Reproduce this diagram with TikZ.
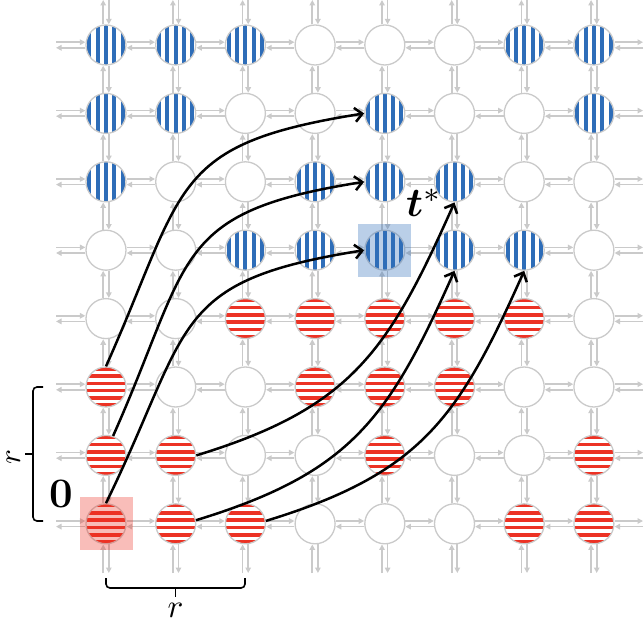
\documentclass[tikz,border=0pt]{standalone}
\usepackage{bm}
\usetikzlibrary{arrows.meta}
\definecolor{gridgray}{RGB}{202,202,202}
\definecolor{stripeblue}{RGB}{46,109,184}
\definecolor{stripered}{RGB}{236,50,36}
\tikzset{
  cell/.style={circle, draw=gridgray, line width=1.3pt, minimum size=40pt, inner sep=0pt, fill=white},
  cellW/.style={cell},
  cellB/.style={cell, path picture={\foreach \k in {-2,...,2}{\fill[stripeblue] ([xshift=\k*8.3pt-2pt, yshift=-22pt]path picture bounding box.center) rectangle ++(4pt,44pt);}}},
  cellR/.style={cell, path picture={\foreach \k in {-3,...,2}{\fill[stripered] ([yshift=\k*7.3pt+1.85pt, xshift=-22pt]path picture bounding box.center) rectangle ++(44pt,3.6pt);}}},
  garr/.style={draw=gridgray, line width=1.7pt, -{Triangle[length=5.5pt,width=5.5pt]}},
  bigarr/.style={draw=black, line width=2.5pt, -{Straight Barb[length=7.5pt,width=14pt]}},
  brk/.style={draw=black, line width=1.6pt, rounded corners=4pt},
  lbl/.style={inner sep=0pt, text=black},
}
\begin{document}
\begin{tikzpicture}[x=1pt,y=1pt]
\useasboundingbox (0,0) rectangle (644,622);
% grid nodes
\foreach \row [count=\i from 0] in {{B,B,B,W,W,W,B,B},{B,B,W,W,B,W,W,B},{B,W,W,B,B,B,W,W},{W,W,B,B,B,B,B,W},{W,W,R,R,R,R,R,W},{R,W,W,R,R,R,W,W},{R,R,W,W,R,W,W,R},{R,R,R,W,W,W,R,R}}{
  \foreach \t [count=\j from 0] in \row {
    \node[cell\t] (n-\i-\j) at ({106+69.7*\j},{577-68.4*\i}) {};
  }
}
% virtual end points at the border
\foreach \i in {0,...,7}{
  \coordinate (L\i) at (56,{577-68.4*\i});
  \coordinate (R\i) at (643,{577-68.4*\i});
  \coordinate (T\i) at ({106+69.7*\i},622);
  \coordinate (B\i) at ({106+69.7*\i},49);
}
% horizontal connectors
\foreach \i in {0,...,7}{
  \foreach \j [evaluate=\j as \k using int(\j+1)] in {0,...,6}{
    \draw[garr] ([yshift=2.8pt]n-\i-\j.east) -- ([yshift=2.8pt]n-\i-\k.west);
    \draw[garr] ([yshift=-2.8pt]n-\i-\k.west) -- ([yshift=-2.8pt]n-\i-\j.east);
  }
  \draw[garr] ([yshift=2.8pt]L\i) -- ([yshift=2.8pt]n-\i-0.west);
  \draw[garr] ([yshift=-2.8pt]n-\i-0.west) -- ([yshift=-2.8pt]L\i);
  \draw[garr] ([yshift=2.8pt]n-\i-7.east) -- ([yshift=2.8pt]R\i);
  \draw[garr] ([yshift=-2.8pt]R\i) -- ([yshift=-2.8pt]n-\i-7.east);
}
% vertical connectors
\foreach \j in {0,...,7}{
  \foreach \i [evaluate=\i as \k using int(\i+1)] in {0,...,6}{
    \draw[garr] ([xshift=-2.8pt]n-\k-\j.north) -- ([xshift=-2.8pt]n-\i-\j.south);
    \draw[garr] ([xshift=2.8pt]n-\i-\j.south) -- ([xshift=2.8pt]n-\k-\j.north);
  }
  \draw[garr] ([xshift=-2.8pt]n-0-\j.north) -- ([xshift=-2.8pt]T\j);
  \draw[garr] ([xshift=2.8pt]T\j) -- ([xshift=2.8pt]n-0-\j.north);
  \draw[garr] ([xshift=-2.8pt]B\j) -- ([xshift=-2.8pt]n-7-\j.south);
  \draw[garr] ([xshift=2.8pt]n-7-\j.south) -- ([xshift=2.8pt]B\j);
}
% highlights
\fill[stripered, opacity=0.32] ([shift={(-26.5pt,-26.5pt)}]n-7-0.center) rectangle ([shift={(26.5pt,26.5pt)}]n-7-0.center);
\fill[stripeblue, opacity=0.33] ([shift={(-26.5pt,-26.5pt)}]n-3-4.center) rectangle ([shift={(26.5pt,26.5pt)}]n-3-4.center);
% long arrows
\draw[bigarr] (n-5-0.north) to[out=66,in=189,looseness=1.4] (n-1-4.west);
\draw[bigarr] (n-6-0.70) to[out=66,in=189,looseness=1.4] (n-2-4.west);
\draw[bigarr] (n-7-0.north) to[out=64,in=189,looseness=1.4] (n-3-4.west);
\draw[bigarr] (n-6-1.east) to[out=17,in=246,looseness=1.15] (n-2-5.south);
\draw[bigarr] (n-7-1.10) to[out=17,in=246,looseness=1.15] (n-3-5.south);
\draw[bigarr] (n-7-2.8) to[out=17,in=246,looseness=1.15] (n-3-6.south);
% braces
\draw[brk] (43,235) -- (33,235) -- (33,101) -- (43,101);
\draw[brk] (33,168) -- (25,168);
\draw[brk] (106,44) -- (106,34) -- (245,34) -- (245,44);
\draw[brk] (175.5,34) -- (175.5,25);
% labels
\node[lbl] (rleft) at (13.5,165) {\rotatebox{90}{\scalebox{3.1}{$r$}}};
\node[lbl, anchor=base] (rbottom) at (175.5,5) {\scalebox{3.3}{$r$}};
\node[lbl] (zero) at (61,128) {\fontsize{42}{42}\selectfont\bfseries 0};
\node[lbl, anchor=base west] (tstar) at (406,405) {\scalebox{4.1}{$\bm{t}^{*}$}};
\end{tikzpicture}
\end{document}
